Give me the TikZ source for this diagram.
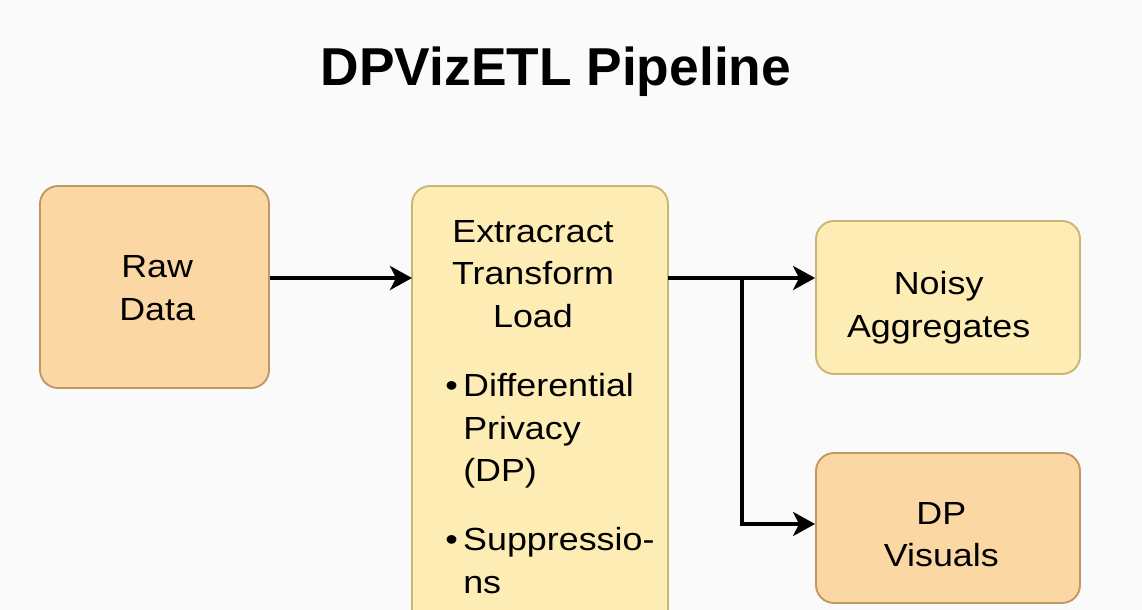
\documentclass[tikz,border=0pt]{standalone}
\usepackage{fontspec}
\setmainfont{Liberation Sans}
\newfontfamily\boxfont[FakeStretch=1.12]{Liberation Sans}
\usepackage{tikz}
\usetikzlibrary{arrows.meta}

\definecolor{rawfill}{RGB}{251,216,163}
\definecolor{rawline}{RGB}{190,152,100}
\definecolor{etlfill}{RGB}{253,237,181}
\definecolor{etlline}{RGB}{200,180,115}
\definecolor{pagebg}{RGB}{250,250,250}

\tikzset{
  stagebox/.style={draw, line width=1.4pt, rounded corners=13.5pt, inner sep=0},
  bodytext/.style={inner sep=0, font=\boxfont\fontsize{24}{32}\selectfont},
  flow/.style={line width=2.8pt, -{Stealth[length=16.5pt, width=18pt, inset=4.5pt]}}
}

\begin{document}
\begin{tikzpicture}[x=0.75pt,y=0.75pt,yscale=-1,xscale=1]
%set diagram to 1142 x 610
\useasboundingbox (0,0) rectangle (1142,610);
\fill [pagebg] (0,0) rectangle (1142,610);
\clip (0,0) rectangle (1142,610);

% Title
\node (title) at (556,85) [anchor=base, inner sep=0, font=\bfseries\fontsize{40}{48}\selectfont] {DPVizETL Pipeline};

%Rounded Rect: raw data
\node (raw) at (154.5,287) [stagebox, fill=rawfill, draw=rawline, minimum width=171.75pt, minimum height=151.5pt,
  label={[bodytext, align=center, xshift=2pt, yshift=-1pt]center:Raw\\Data}] {};
%Rounded Rect: extract transform load
\draw [line width=1.4pt, rounded corners=13.5pt, fill=etlfill, draw=etlline] (412,186) rectangle (668,630);
\coordinate (etlin) at (412,278);
\coordinate (etlout) at (668,278);
%Rounded Rect: noisy aggregates
\node (noisy) at (948,297.5) [stagebox, fill=etlfill, draw=etlline, minimum width=198pt, minimum height=114.75pt,
  label={[bodytext, align=center, xshift=-7pt, yshift=-7.5pt]center:Noisy\\Aggregates}] {};
%Rounded Rect: dp visuals
\node (visuals) at (948,528) [stagebox, fill=rawfill, draw=rawline, minimum width=198pt, minimum height=112.5pt,
  label={[bodytext, align=center, xshift=-5pt, yshift=-5pt]center:DP\\Visuals}] {};

% Text Node
\node (etlhead) at (533,220) [bodytext, anchor=north, align=center] {Extracract\\Transform\\Load};
% Text Node
\node (dpitem) at (463,373) [bodytext, anchor=north west, align=left] {\llap{\textbullet\,}Differential\\Privacy\\(DP)};
% Text Node
\node (suppitem) at (463,527) [bodytext, anchor=north west, align=left] {\llap{\textbullet\,}Suppressio-\\ns};

%Straight Lines
\draw [flow] (raw.east |- etlin) -- (etlin);
\draw [flow] (etlout) -- (noisy.west |- etlout);
\coordinate (fork) at (742,278);
\draw [flow] (fork) |- (visuals.west |- 0,524);

\end{tikzpicture}
\end{document}
